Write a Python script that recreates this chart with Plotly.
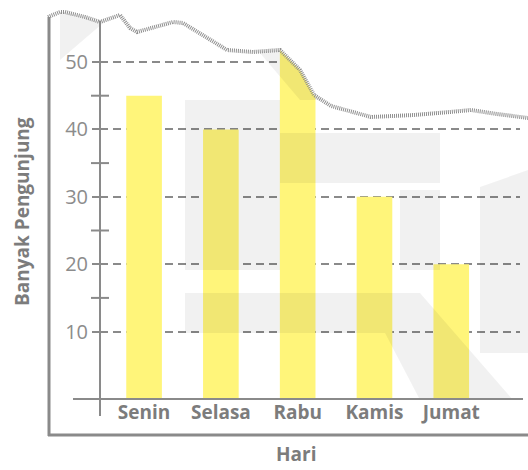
import plotly.graph_objects as go

# ── data ──
days = ["Senin", "Selasa", "Rabu", "Kamis", "Jumat"]
visitors = [45, 40, 55, 30, 20]          # Rabu is cut off by the torn edge
major_ticks = [10, 20, 30, 40, 50]
minor_ticks = [15, 25, 35, 45]

BAR_COLOR = "#fff57a"
LINE_COLOR = "#8a8a8a"
TEXT_COLOR = "#7c7c7c"
FONT = "Open Sans"

# plot area in pixels (528 x 470 canvas)
L, R, T, B = 100, 8, 10, 71
W, H = 528 - L - R, 470 - T - B


def px(x):
    return (x - L) / W


def py(y):
    return (470 - B - y) / H


fig = go.Figure(go.Bar(
    x=days,
    y=visitors,
    width=0.464,
    marker=dict(color=BAR_COLOR, line=dict(width=0)),
    hoverinfo="x+y",
))

shapes = []

# watermark blocks (scanned page background)
wm = "rgba(0,0,0,0.055)"
blocks = [
    [(185, 100), (280, 100), (280, 270), (185, 270)],
    [(280, 133), (440, 133), (440, 183), (280, 183)],
    [(400, 190), (440, 190), (440, 270), (400, 270)],
    [(185, 293), (420, 293), (513, 400), (420, 400), (385, 333), (185, 333)],
    [(480, 187), (528, 170), (528, 353), (480, 353)],
    [(60, 0), (130, 0), (60, 60)],
    [(215, 0), (330, 0), (330, 100), (300, 100)],
]
for poly in blocks:
    path = "M " + " L ".join(f"{px(x)},{py(y)}" for x, y in poly) + " Z"
    shapes.append(dict(type="path", path=path, xref="paper", yref="paper",
                       fillcolor=wm, line=dict(width=0), layer="above"))

# torn top edge: white paper above the tear
tear = [(48, 17), (60, 12), (65, 12), (85, 17), (100, 22), (120, 15),
        (130, 28), (137, 32), (173, 22), (183, 23), (227, 50), (253, 52),
        (280, 50), (300, 70), (314, 95), (331, 106), (371, 117), (414, 115),
        (450, 112), (471, 110), (497, 114), (528, 118)]
tear_path = " L ".join(f"{px(x)},{py(y)}" for x, y in tear)
shapes.append(dict(type="path", xref="paper", yref="paper", layer="above",
                   path=f"M {px(48)},{py(0)} L {tear_path} L {px(528)},{py(0)} Z",
                   fillcolor="white", line=dict(width=0)))
shapes.append(dict(type="path", xref="paper", yref="paper", layer="above",
                   path="M " + tear_path,
                   line=dict(color="#8f8f8f", width=4, dash="1px,1px")))

# outer frame (left and bottom)
shapes.append(dict(type="line", xref="paper", yref="paper", layer="above",
                   x0=px(49), x1=px(49), y0=py(17), y1=py(436),
                   line=dict(color=LINE_COLOR, width=3)))
shapes.append(dict(type="line", xref="paper", yref="paper", layer="above",
                   x0=px(48), x1=px(528), y0=py(435), y1=py(435),
                   line=dict(color=LINE_COLOR, width=3)))
# axes
shapes.append(dict(type="line", xref="paper", yref="paper", layer="above",
                   x0=px(100), x1=px(100), y0=py(21), y1=py(416),
                   line=dict(color=LINE_COLOR, width=2)))
shapes.append(dict(type="line", xref="paper", yref="paper", layer="above",
                   x0=px(73), x1=px(523), y0=py(399), y1=py(399),
                   line=dict(color=LINE_COLOR, width=2)))
# minor cross ticks
for v in minor_ticks:
    shapes.append(dict(type="line", xref="paper", yref="y", layer="above",
                       x0=px(91), x1=px(109), y0=v, y1=v,
                       line=dict(color=LINE_COLOR, width=2)))

annotations = [
    dict(text="<b>Banyak Pengunjung</b>", textangle=-90, xref="paper", yref="paper",
         x=px(22), y=py(212), xanchor="center", yanchor="middle", showarrow=False,
         font=dict(family=FONT, size=19, color=TEXT_COLOR)),
    dict(text="<b>Hari</b>", xref="paper", yref="paper",
         x=px(296), y=py(469), xanchor="center", yanchor="bottom", showarrow=False,
         font=dict(family=FONT, size=19, color=TEXT_COLOR)),
]

fig.update_layout(
    width=528, height=470,
    margin=dict(l=L, r=R, t=T, b=B),
    paper_bgcolor="white", plot_bgcolor="white",
    showlegend=False,
    shapes=shapes,
    annotations=annotations,
    xaxis=dict(
        range=[-0.574, 4.895],
        showgrid=False, zeroline=False, showline=False,
        ticks="", ticklen=0,
        tickfont=dict(family=FONT, size=19, color=TEXT_COLOR, weight="bold"),
    ),
    yaxis=dict(
        range=[0, H / 6.74],
        tickvals=major_ticks,
        showgrid=True, gridcolor=LINE_COLOR, gridwidth=1.5, griddash="8px,5px",
        zeroline=False, showline=False,
        ticks="outside", ticklen=7, tickwidth=1.5, tickcolor=LINE_COLOR,
        tickfont=dict(family=FONT, size=20, color="#8c8c8c"),
    ),
)

fig.write_html("out.html", config={"displayModeBar": False},
               post_script="document.body.style.margin='0';")
